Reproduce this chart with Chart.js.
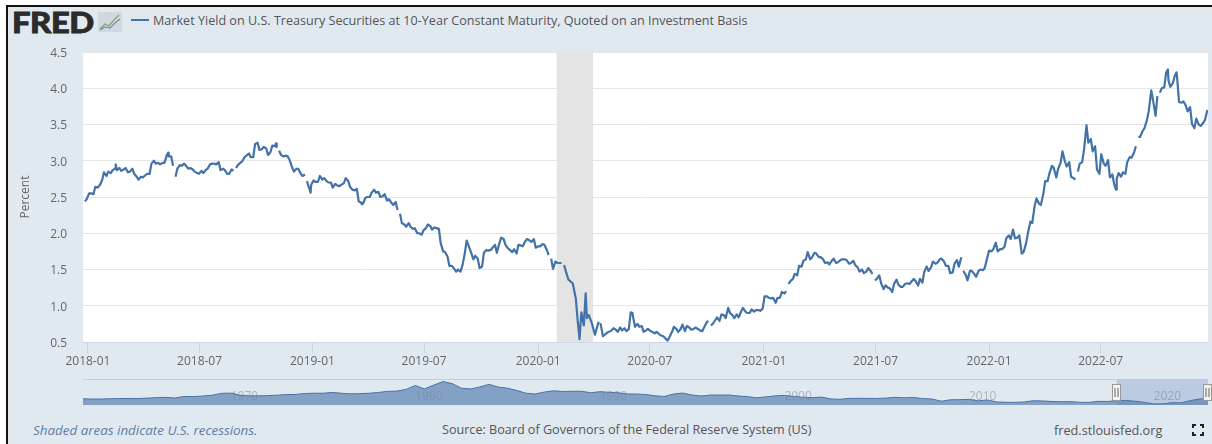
<!DOCTYPE html>
<html><head><meta charset="utf-8">
<script src="https://cdn.jsdelivr.net/npm/chart.js@4"></script>
<style>
html,body{margin:0;padding:0;background:#fff;width:1212px;height:444px;overflow:hidden}
#bg{position:absolute;left:6px;top:5px;width:1206px;height:439px;background:#e1e9f0;border-left:2px solid #111;border-top:2px solid #111;box-sizing:border-box}
canvas{position:absolute}
.t{position:absolute;white-space:nowrap;font-family:"Open Sans",sans-serif;color:#555;line-height:16px}
#logo{left:12px;top:9px;font:900 28px/26px Lato,"Liberation Sans",sans-serif;color:#2b2b2b;letter-spacing:-.4px;-webkit-text-stroke:.8px #2b2b2b;transform:scaleX(1.17);transform-origin:left top}
#swatch{position:absolute;left:131px;top:19px;width:18px;height:2px;background:#4572a7}
svg{position:absolute}
</style></head><body>
<div id="bg"></div>
<div class="t" id="logo">FRED</div>
<svg style="left:98px;top:12px" width="24" height="20"><rect width="24" height="20" fill="#d2d9de"/><polyline points="2,17 7,12 11,14 16,8 21,3" fill="none" stroke="#7fa36c" stroke-width="1.2"/><polyline points="2,18 7,15 12,16 17,11 22,7" fill="none" stroke="#6f90b5" stroke-width="1.2"/></svg>
<div id="swatch"></div>
<div class="t" style="left:153px;top:13px;font-size:12.6px">Market Yield on U.S. Treasury Securities at 10-Year Constant Maturity, Quoted on an Investment Basis</div>
<div class="t" style="left:33px;top:422px;font-size:13.4px;font-style:italic;color:#5d7ea6">Shaded areas indicate U.S. recessions.</div>
<div class="t" style="left:442px;top:422px;font-size:12.6px">Source: Board of Governors of the Federal Reserve System (US)</div>
<div class="t" style="left:1054px;top:422px;font-size:12.7px">fred.stlouisfed.org</div>
<svg style="left:1192px;top:424px" width="12" height="12"><path d="M1 4V1H4M8 1H11V4M1 8V11H4M8 11H11V8" fill="none" stroke="#222" stroke-width="2"/></svg>
<canvas id="main" width="1212" height="444" style="left:0;top:0;width:1212px;height:444px"></canvas>
<canvas id="nav" width="1129" height="28" style="left:83px;top:378px;width:1129px;height:28px"></canvas>
<script>
// Weekly Friday readings, percent
const start2018 = "2018-01-05";
const yields2018 = [2.47,2.55,2.64,2.66,2.84,2.85,2.87,2.87,2.86,2.90,2.85,2.82,2.74,2.77,2.82,2.96,2.96,2.95,2.97,3.06,2.93,2.89,2.93,2.93,2.90,2.85,2.82,2.83,2.89,2.96,2.95,2.87,2.87,2.82,2.86,2.94,2.99,3.07,3.05,3.23,3.15,3.19,3.08,3.21,3.19,3.08,3.07,3.01,2.85,2.89,2.79,2.72];
const start2019 = "2019-01-04";
const yields2019 = [2.67,2.71,2.79,2.76,2.70,2.63,2.66,2.67,2.76,2.64,2.59,2.44,2.41,2.50,2.56,2.56,2.50,2.54,2.47,2.39,2.32,2.14,2.09,2.09,2.07,2.00,2.04,2.12,2.05,2.07,1.86,1.74,1.55,1.52,1.50,1.55,1.90,1.74,1.69,1.52,1.73,1.76,1.80,1.73,1.94,1.84,1.77,1.78,1.84,1.82,1.92,1.88];
const start2020a = "2020-01-03";
const yields2020a = [1.80,1.82,1.84,1.70,1.51,1.59,1.59,1.47];
const crashDates = ["2020-02-25","2020-03-03","2020-03-08","2020-03-11","2020-03-14","2020-03-17","2020-03-21","2020-03-24","2020-03-26","2020-03-29","2020-04-03","2020-04-08"];
const crashYields = [1.36,1.31,1.10,0.80,0.54,0.91,0.73,1.17,0.83,0.87,0.76,0.60];
const start2020b = "2020-04-10";
const yields2020b = [0.66,0.76,0.60,0.64,0.69,0.64,0.66,0.65,0.91,0.71,0.71,0.64,0.68,0.64,0.64,0.59,0.55,0.57,0.71,0.64,0.74,0.72,0.67,0.70,0.66,0.70,0.79,0.75,0.84,0.88,0.83,0.90,0.83,0.84,0.97,0.90,0.95,0.94];
const start2021 = "2021-01-01";
const yields2021 = [0.93,1.13,1.11,1.11,1.11,1.19,1.20,1.34,1.44,1.55,1.62,1.74,1.67,1.72,1.67,1.59,1.57,1.65,1.60,1.64,1.63,1.59,1.56,1.47,1.45,1.52,1.44,1.37,1.31,1.28,1.24,1.30,1.29,1.26,1.31,1.33,1.34,1.37,1.47,1.48,1.61,1.59,1.65,1.55,1.45,1.58,1.54,1.48,1.35,1.48,1.40,1.50,1.52];
const start2022 = "2022-01-07";
const yields2022 = [1.76,1.78,1.75,1.78,1.93,1.92,1.93,1.97,1.74,2.00,2.14,2.48,2.39,2.72,2.83,2.90,2.89,3.13,2.92,2.78,2.74,2.96,3.15,3.25,3.13,2.88,3.09,2.93,2.77,2.67,2.83,2.84,2.98,3.04,3.20,3.33,3.45,3.69,3.83,3.89,4.00,4.21,4.02,4.17,3.81,3.82,3.68,3.51,3.58,3.48,3.56];
// Weekly Tuesday readings, percent
const tue2018start = "2018-01-09";
const tue2018 = [2.55,2.54,2.63,2.73,2.79,2.83,2.89,2.90,2.88,2.84,2.89,2.78,2.78,2.80,2.82,3.00,2.97,2.97,3.08,3.06,2.78,2.94,2.96,2.89,2.88,2.83,2.86,2.87,2.95,2.96,2.98,2.89,2.82,2.88,2.90,2.97,3.05,3.10,3.05,3.25,3.16,3.17,3.12,3.20,3.14,3.06,3.06,2.91,2.89,2.82,2.81];
const tue2019start = "2019-01-08";
const tue2019 = [2.73,2.71,2.74,2.72,2.70,2.68,2.65,2.69,2.72,2.60,2.61,2.42,2.49,2.50,2.60,2.57,2.51,2.45,2.42,2.43,2.27,2.12,2.14,2.06,2.00,1.98,2.07,2.10,2.08,2.06,1.75,1.68,1.55,1.47,1.47,1.72,1.81,1.64,1.65,1.54,1.77,1.77,1.84,1.86,1.92,1.79,1.74,1.72,1.83,1.89,1.90,1.92];
const tue2020astart = "2020-01-07";
const tue2020a = [1.82,1.85,1.77,1.65,1.61,1.59,1.56];
const tue2020bstart = "2020-04-14";
const tue2020b = [0.78,0.58,0.63,0.66,0.67,0.70,0.69,0.68,0.84,0.75,0.72,0.66,0.65,0.62,0.61,0.58,0.52,0.64,0.68,0.68,0.65,0.70,0.68,0.68,0.65,0.77,0.73,0.80,0.79,0.87,0.97,0.87,0.88,0.92,0.92,0.90,0.92,0.94];
const tue2021start = "2021-01-05";
const tue2021 = [0.96,1.13,1.10,1.04,1.11,1.17,1.30,1.37,1.42,1.54,1.64,1.64,1.73,1.67,1.64,1.60,1.62,1.59,1.63,1.64,1.58,1.62,1.53,1.50,1.47,1.48,1.35,1.42,1.23,1.25,1.19,1.36,1.26,1.30,1.30,1.37,1.28,1.32,1.54,1.53,1.58,1.64,1.61,1.55,1.46,1.63,1.67,1.43,1.48,1.44,1.48,1.49];
const tue2022start = "2022-01-04";
const tue2022 = [1.66,1.75,1.87,1.78,1.81,1.97,2.05,1.94,1.72,1.86,2.16,2.38,2.41,2.54,2.72,2.93,2.77,2.97,2.99,2.98,2.76,2.85,2.98,3.49,3.30,3.20,2.82,2.96,3.01,2.81,2.75,2.78,2.82,3.05,3.11,3.33,3.41,3.56,3.97,3.62,3.94,4.01,4.10,4.07,4.14,3.80,3.76,3.74,3.45,3.50,3.52];
// Sharp extremes between those days
const peakDates = ["2018-01-02","2018-02-21","2018-05-17","2018-11-08","2019-01-03","2019-03-27","2020-06-08","2022-08-01","2022-10-24","2022-11-07","2022-12-27"];
const peakYields = [2.44,2.95,3.11,3.24,2.56,2.40,0.90,2.60,4.26,4.22,3.70];
// Breaks in the line (market holidays)
const gapDates = ["2018-05-28","2018-09-03","2018-11-12","2018-12-25","2019-05-27","2020-01-25","2020-02-17","2020-04-15","2020-10-12","2021-02-15","2021-07-05","2021-11-25","2022-05-30","2022-09-05","2022-10-10"];
const recessionStart = "2020-02-06", recessionEnd = "2020-04-05";
const tickLabels = ["2018-01","2018-07","2019-01","2019-07","2020-01","2020-07","2021-01","2021-07","2022-01","2022-07"];
const tickDates = ["2018-01-07","2018-07-07","2019-01-06","2019-07-06","2020-01-07","2020-07-06","2021-01-07","2021-07-07","2022-01-07","2022-07-07"];
const yTicks = [0.5,1,1.5,2,2.5,3,3.5,4,4.5];
// Overview strip: half-year readings from 1962
const navYields = [4.08,3.9,3.9,4.1,4.2,4.2,4.2,4.5,4.8,5.0,4.6,5.6,5.5,5.9,6.4,7.6,7.8,6.4,6.0,6.0,6.1,6.4,6.8,6.9,7.5,7.7,7.7,8.2,7.7,7.3,7.4,7.7,8.2,8.9,9.1,10.2,12.7,10.5,13,15.3,14,11,10.5,11.8,13.5,11.7,11,9.5,7.7,7.2,8.5,9.3,8.8,9,9,8,8.7,8.3,8,7.2,7.2,6.8,6,5.6,7.2,7.8,6.5,5.9,6.5,6.5,6.5,5.9,5.5,4.7,5.3,6,6.3,5.6,5.1,4.8,5.2,4,3.7,4.3,4.4,4.3,4.3,4.5,5,4.7,4.9,4.2,3.9,2.5,3.4,3.5,3.7,2.7,3.3,2,1.8,1.7,2,2.8,2.6,2.3,2.1,2.2,1.8,1.7,2.4,2.3,2.9,3,2.5,1.7,0.7,0.8,1.5,1.4,2.9,4];
const navFirstYear = 1962;
const navTickYears = [1970,1980,1990,2000,2010,2020];
const navSelected = [2018,2022.95];

const dayOf = s => (Date.parse(s+"T00:00:00Z")-Date.UTC(2018,0,1))/864e5+1;
const weekly = (s,v) => v.map((y,i)=>({x:dayOf(s)+7*i,y}));
const pts = [].concat(
  weekly(start2018,yields2018),weekly(start2019,yields2019),weekly(start2020a,yields2020a),
  crashDates.map((d,i)=>({x:dayOf(d),y:crashYields[i]})),
  weekly(start2020b,yields2020b),weekly(start2021,yields2021),weekly(start2022,yields2022),
  weekly(tue2018start,tue2018),weekly(tue2019start,tue2019),weekly(tue2020astart,tue2020a),
  weekly(tue2020bstart,tue2020b),weekly(tue2021start,tue2021),weekly(tue2022start,tue2022),
  peakDates.map((d,i)=>({x:dayOf(d),y:peakYields[i]})),
  gapDates.map(d=>({x:dayOf(d)+.5,y:null}))
).sort((a,b)=>a.x-b.x);

const font = {family:'"Open Sans",sans-serif',size:12};
const paper = {id:'paper',
  beforeDraw(c){const a=c.chartArea,g=c.ctx;g.save();g.fillStyle='#fff';g.fillRect(a.left,a.top,a.width,a.height);g.restore();},
  beforeDatasetsDraw(c){const a=c.chartArea,g=c.ctx,x=c.scales.x;const l=x.getPixelForValue(dayOf(recessionStart)),r=x.getPixelForValue(dayOf(recessionEnd));g.save();g.fillStyle='#e4e4e4';g.fillRect(l,a.top,r-l,a.height);g.restore();}};
new Chart(document.getElementById('main'),{
  type:'line',
  data:{datasets:[{data:pts,parsing:false,borderColor:'#4272a8',borderWidth:2.2,pointRadius:0,tension:0,spanGaps:false,fill:false,borderJoinStyle:'round'}]},
  options:{responsive:false,animation:false,devicePixelRatio:1,
    layout:{padding:{top:52,right:4,bottom:72,left:0}},
    plugins:{legend:{display:false},tooltip:{enabled:false}},
    scales:{
      x:{type:'linear',min:-1,max:1823,
        afterBuildTicks(s){s.ticks=tickDates.map(d=>({value:dayOf(d)}));},
        afterFit(s){s.height=30;},
        border:{color:'#ccd6eb',width:1},
        grid:{drawOnChartArea:false,color:'#c8d4e2',tickLength:11,tickWidth:1},
        ticks:{font,color:'#666',padding:1,autoSkip:false,maxRotation:0,minRotation:0,callback:(v,i)=>tickLabels[i]}},
      y:{min:0.5,max:4.5,
        afterBuildTicks(s){s.ticks=yTicks.map(value=>({value}));},
        afterFit(s){s.width=83;},
        border:{display:false},
        grid:{color:'#e6e6e6',lineWidth:1,drawTicks:false},
        title:{display:true,text:'Percent',font,color:'#666',padding:{top:18,bottom:0}},
        ticks:{font,color:'#666',padding:16,labelOffset:1.5,callback:v=>v.toFixed(1)}}
    }},
  plugins:[paper]});

const navPts = navYields.map((y,i)=>({x:navFirstYear+i/2,y}));
navPts.push({x:2022.95,y:navYields[navYields.length-1]});
const navDeco = {id:'navDeco',
  beforeDatasetsDraw(c){const a=c.chartArea,g=c.ctx,x=c.scales.x,l=x.getPixelForValue(navSelected[0]),r=x.getPixelForValue(navSelected[1]);
    g.save();g.fillStyle='rgba(102,133,194,.3)';g.fillRect(l,a.top,r-l,a.height);
    g.strokeStyle='#ccc';g.beginPath();g.moveTo(a.left,a.top+.5);g.lineTo(l,a.top+.5);g.stroke();g.restore();},
  afterDraw(c){const a=c.chartArea,g=c.ctx,x=c.scales.x;g.save();
    g.font='12px "Open Sans",sans-serif';g.fillStyle='rgba(120,135,155,.55)';g.textAlign='left';g.textBaseline='middle';
    navTickYears.forEach(y=>g.fillText(String(y),x.getPixelForValue(y),a.top+18));
    navSelected.forEach(v=>{const p=Math.round(x.getPixelForValue(v));
      g.fillStyle='#f2f2f2';g.strokeStyle='#999';g.fillRect(p-4.5,6.5,8,16);g.strokeRect(p-4.5,6.5,8,16);
      g.strokeStyle='#666';g.beginPath();g.moveTo(p-2,10);g.lineTo(p-2,19);g.moveTo(p+1,10);g.lineTo(p+1,19);g.stroke();});
    g.restore();}};
new Chart(document.getElementById('nav'),{
  type:'line',
  data:{datasets:[{data:navPts,parsing:false,borderColor:'#4572a7',borderWidth:1,backgroundColor:'rgba(69,114,167,.6)',pointRadius:0,tension:0,fill:'origin'}]},
  options:{responsive:false,animation:false,devicePixelRatio:1,
    layout:{padding:{top:1,right:4,bottom:1,left:0}},
    plugins:{legend:{display:false},tooltip:{enabled:false}},
    scales:{x:{type:'linear',min:1962,max:2022.95,display:false},y:{min:0,max:17,display:false}}},
  plugins:[navDeco]});
</script>
</body></html>
